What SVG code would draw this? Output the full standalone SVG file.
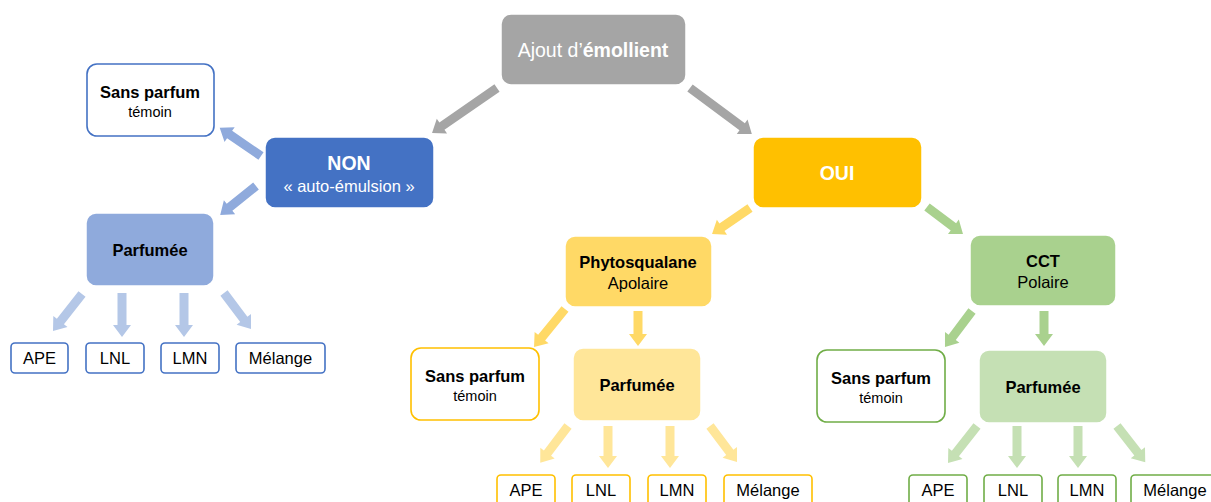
<svg xmlns="http://www.w3.org/2000/svg" width="1211" height="502" viewBox="0 0 1211 502">
<style>
text{font-family:"Liberation Sans",Arial,sans-serif;text-anchor:middle}
.big{stroke:#fff;stroke-width:1.5}
.lf{fill:#fff;stroke-width:1.6}
.w{fill:#fff}
.b{font-weight:bold}
.t15{font-size:16.5px}
.t13{font-size:14.5px}
.t16{font-size:16.5px}
.blue{stroke:#4472c4}
.yel{stroke:#ffc000}
.grn{stroke:#70ad47}
</style>
<rect width="1211" height="502" fill="#fff"/>
<g id="connectors">
<g fill="#a5a5a5">
<path transform="translate(497,88) rotate(145.3)" d="M0,-4.5H67V-9L79,0L67,9V4.5H0Z"/>
<path transform="translate(690,88) rotate(36.6)" d="M0,-4.5H65V-9L77,0L65,9V4.5H0Z"/>
</g>
<g fill="#8faadc">
<path transform="translate(261,156) rotate(-145.7)" d="M0,-4.5H38V-9L50,0L38,9V4.5H0Z"/>
<path transform="translate(256,186) rotate(141.1)" d="M0,-4.5H34V-9L46,0L34,9V4.5H0Z"/>
</g>
<g fill="#b4c7e7">
<path transform="translate(82,294) rotate(128.1)" d="M0,-4.5H35V-9L47,0L35,9V4.5H0Z"/>
<path transform="translate(122,293) rotate(90)" d="M0,-4.5H32V-9L44,0L32,9V4.5H0Z"/>
<path transform="translate(184,293) rotate(90)" d="M0,-4.5H32V-9L44,0L32,9V4.5H0Z"/>
<path transform="translate(224,293) rotate(53.1)" d="M0,-4.5H33V-9L45,0L33,9V4.5H0Z"/>
</g>
<g fill="#ffd966">
<path transform="translate(750,208) rotate(145.6)" d="M0,-4.5H34V-9L46,0L34,9V4.5H0Z"/>
<path transform="translate(565,309) rotate(129.2)" d="M0,-4.5H37V-9L49,0L37,9V4.5H0Z"/>
<path transform="translate(638,311) rotate(90)" d="M0,-4.5H23V-9L35,0L23,9V4.5H0Z"/>
</g>
<g fill="#ffe699">
<path transform="translate(568,426) rotate(127.1)" d="M0,-4.5H34V-9L46,0L34,9V4.5H0Z"/>
<path transform="translate(608,426) rotate(90)" d="M0,-4.5H30V-9L42,0L30,9V4.5H0Z"/>
<path transform="translate(670,426) rotate(90)" d="M0,-4.5H30V-9L42,0L30,9V4.5H0Z"/>
<path transform="translate(710,426) rotate(53.1)" d="M0,-4.5H33V-9L45,0L33,9V4.5H0Z"/>
</g>
<g fill="#a9d18e">
<path transform="translate(927,207) rotate(36.9)" d="M0,-4.5H33V-9L45,0L33,9V4.5H0Z"/>
<path transform="translate(972,311) rotate(126.9)" d="M0,-4.5H33V-9L45,0L33,9V4.5H0Z"/>
<path transform="translate(1044,311) rotate(90)" d="M0,-4.5H23V-9L35,0L23,9V4.5H0Z"/>
</g>
<g fill="#c5e0b4">
<path transform="translate(977,426) rotate(128.1)" d="M0,-4.5H35V-9L47,0L35,9V4.5H0Z"/>
<path transform="translate(1017,426) rotate(90)" d="M0,-4.5H30V-9L42,0L30,9V4.5H0Z"/>
<path transform="translate(1078,426) rotate(90)" d="M0,-4.5H30V-9L42,0L30,9V4.5H0Z"/>
<path transform="translate(1117,426) rotate(52.1)" d="M0,-4.5H34V-9L46,0L34,9V4.5H0Z"/>
</g>
</g>
<g id="n-ajout"><rect class="big" x="501" y="14" width="185" height="71" rx="10" fill="#a5a5a5"/><text x="593" y="57" font-size="19.5" fill="#fff">Ajout d’<tspan class="b">émollient</tspan></text></g>
<g id="n-non"><rect class="big" x="265" y="137" width="169" height="71" rx="10" fill="#4472c4"/><text x="349" y="170" font-size="19.5" class="b w">NON</text><text x="349" y="192" font-size="16.5" class="w">« auto-émulsion »</text></g>
<g id="n-sans-l"><rect class="lf blue" x="87" y="64" width="127" height="72" rx="10"/><text x="150" y="98" class="b t15">Sans parfum</text><text x="150" y="117" class="t13">témoin</text></g>
<g id="n-parf-l"><rect class="big" x="86" y="213" width="128" height="73" rx="10" fill="#8faadc"/><text x="150" y="256" class="b t15">Parfumée</text></g>
<g id="n-ape-l"><rect class="lf blue" x="11" y="343" width="57" height="30" rx="4"/><text x="39.5" y="364" class="t16">APE</text></g>
<g id="n-lnl-l"><rect class="lf blue" x="86" y="343" width="58" height="30" rx="4"/><text x="115" y="364" class="t16">LNL</text></g>
<g id="n-lmn-l"><rect class="lf blue" x="161" y="343" width="58" height="30" rx="4"/><text x="190" y="364" class="t16">LMN</text></g>
<g id="n-mel-l"><rect class="lf blue" x="236" y="343" width="89" height="30" rx="4"/><text x="280.5" y="364" class="t16">Mélange</text></g>
<g id="n-oui"><rect class="big" x="753" y="137" width="169" height="71" rx="10" fill="#ffc000"/><text x="837" y="180" font-size="19.5" class="b w">OUI</text></g>
<g id="n-phyto"><rect class="big" x="565" y="236" width="147" height="71" rx="10" fill="#ffd966"/><text x="638" y="268" class="b t15">Phytosqualane</text><text x="638" y="289" class="t15">Apolaire</text></g>
<g id="n-cct"><rect class="big" x="970" y="235" width="146" height="71" rx="10" fill="#a9d18e"/><text x="1043" y="267" class="b t15">CCT</text><text x="1043" y="288" class="t15">Polaire</text></g>
<g id="n-sans-m"><rect class="lf yel" x="411" y="348" width="128" height="72" rx="10"/><text x="475" y="382" class="b t15">Sans parfum</text><text x="475" y="401" class="t13">témoin</text></g>
<g id="n-parf-m"><rect class="big" x="573" y="348" width="128" height="73" rx="10" fill="#ffe699"/><text x="637" y="391" class="b t15">Parfumée</text></g>
<g id="n-ape-m"><rect class="lf yel" x="497" y="475" width="58" height="32" rx="4"/><text x="526" y="496" class="t16">APE</text></g>
<g id="n-lnl-m"><rect class="lf yel" x="572" y="475" width="58" height="32" rx="4"/><text x="601" y="496" class="t16">LNL</text></g>
<g id="n-lmn-m"><rect class="lf yel" x="648" y="475" width="58" height="32" rx="4"/><text x="677" y="496" class="t16">LMN</text></g>
<g id="n-mel-m"><rect class="lf yel" x="724" y="475" width="88" height="32" rx="4"/><text x="768" y="496" class="t16">Mélange</text></g>
<g id="n-sans-r"><rect class="lf grn" x="817" y="350" width="128" height="72" rx="10"/><text x="881" y="384" class="b t15">Sans parfum</text><text x="881" y="403" class="t13">témoin</text></g>
<g id="n-parf-r"><rect class="big" x="979" y="350" width="128" height="73" rx="10" fill="#c5e0b4"/><text x="1043" y="393" class="b t15">Parfumée</text></g>
<g id="n-ape-r"><rect class="lf grn" x="909" y="475" width="58" height="32" rx="4"/><text x="938" y="496" class="t16">APE</text></g>
<g id="n-lnl-r"><rect class="lf grn" x="984" y="475" width="58" height="32" rx="4"/><text x="1013" y="496" class="t16">LNL</text></g>
<g id="n-lmn-r"><rect class="lf grn" x="1058" y="475" width="58" height="32" rx="4"/><text x="1087" y="496" class="t16">LMN</text></g>
<g id="n-mel-r"><rect class="lf grn" x="1131" y="475" width="88" height="32" rx="4"/><text x="1175" y="496" class="t16">Mélange</text></g>
</svg>
